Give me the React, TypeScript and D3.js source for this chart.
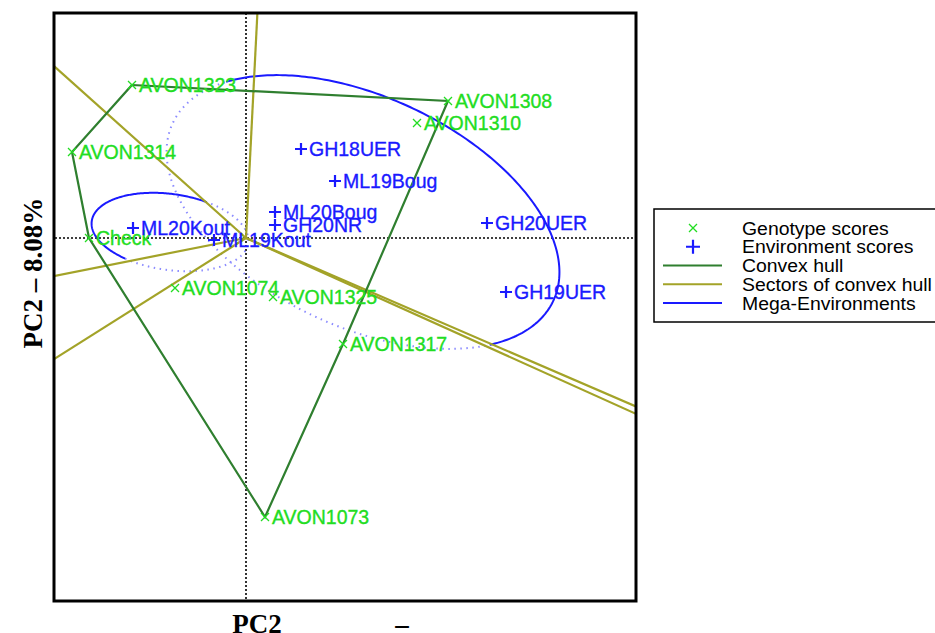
import React, { Component } from 'react';
import * as d3 from 'd3';

// genotype scores (PC1, PC2)
const genotypes = ['AVON1323', 'AVON1314', 'Check', 'AVON1308', 'AVON1310', 'AVON1074', 'AVON1325', 'AVON1317', 'AVON1073'];
const genoPC1 = [-1.14, -1.74, -1.57, 2.02, 1.71, -0.71, 0.27, 0.97, 0.19];
const genoPC2 = [1.53, 0.86, 0.00, 1.37, 1.15, -0.50, -0.59, -1.06, -2.79];

// environment scores
const environments = ['GH18UER', 'ML19Boug', 'ML20Boug', 'GH20NR', 'ML20Kout', 'ML19Kout', 'GH20UER', 'GH19UER'];
const envPC1 = [0.55, 0.89, 0.29, 0.29, -1.13, -0.32, 2.41, 2.60];
const envPC2 = [0.89, 0.57, 0.26, 0.13, 0.10, -0.02, 0.15, -0.54];

// polygon vertices (in order)
const hullOrder = ['AVON1323', 'AVON1308', 'AVON1317', 'AVON1073', 'Check', 'AVON1314'];

// mega-environment ellipses
const megaCx = [1.17, -0.76];
const megaCy = [0.26, 0.06];
const megaA = [2.10, 0.79];
const megaB = [1.15, 0.38];
const megaAngle = [-25, -8];
const megaSolidFrom = [-35.5, 66];
const megaSolidTo = [149, 239];

const legendLabels = ['Genotype scores', 'Environment scores', 'Convex hull', 'Sectors of convex hull', 'Mega-Environments'];

const GENO_COL = '#22dd22';
const ENV_COL = '#1a1aff';
const HULL_COL = '#2f7f2f';
const SECTOR_COL = '#a3a328';
const DOT_COL = '#8c8cff';

class GGEBiplot extends Component {
    ref = React.createRef<SVGSVGElement>();

    componentDidMount() {
        this.createChart();
    }

    createChart() {
        const svg = d3.select(this.ref.current);
        svg.selectAll('*').remove();

        const plot = { left: 55, right: 636, top: 13, bottom: 601 };

        const x = d3.scaleLinear().domain([-1.91, 3.90]).range([plot.left, plot.right]);
        const y = d3.scaleLinear().domain([-3.63, 2.25]).range([plot.bottom, plot.top]);

        svg.append('defs').append('clipPath').attr('id', 'plotclip')
            .append('rect')
            .attr('x', plot.left).attr('y', plot.top)
            .attr('width', plot.right - plot.left).attr('height', plot.bottom - plot.top);

        const g = svg.append('g').attr('clip-path', 'url(#plotclip)');

        // origin lines
        g.append('line')
            .attr('x1', plot.left).attr('x2', plot.right)
            .attr('y1', y(0)).attr('y2', y(0))
            .attr('stroke', '#000').attr('stroke-width', 1.6).attr('stroke-dasharray', '2,2');
        g.append('line')
            .attr('x1', x(0)).attr('x2', x(0))
            .attr('y1', plot.top).attr('y2', plot.bottom)
            .attr('stroke', '#000').attr('stroke-width', 1.6).attr('stroke-dasharray', '2,2');

        // ellipses
        megaCx.forEach((cx, i) => {
            const phi = megaAngle[i] * Math.PI / 180;
            const pt = (deg: number): [number, number] => {
                const t = deg * Math.PI / 180;
                const u = megaA[i] * Math.cos(t), v = megaB[i] * Math.sin(t);
                return [x(cx + u * Math.cos(phi) - v * Math.sin(phi)), y(megaCy[i] + u * Math.sin(phi) + v * Math.cos(phi))];
            };
            const line = d3.line().curve(d3.curveLinear);
            const solid = d3.range(megaSolidFrom[i], megaSolidTo[i] + 0.5, 1).map(pt);
            const dotted = d3.range(megaSolidTo[i], megaSolidFrom[i] + 360 + 0.5, 1).map(pt);
            g.append('path').attr('d', line(dotted)).attr('fill', 'none')
                .attr('stroke', DOT_COL).attr('stroke-width', 2).attr('stroke-dasharray', '1.5,4.5');
            g.append('path').attr('d', line(solid)).attr('fill', 'none')
                .attr('stroke', ENV_COL).attr('stroke-width', 2);
        });

        // hull + sectors
        const hullPts = hullOrder.map((name) => {
            const k = genotypes.indexOf(name);
            return [genoPC1[k], genoPC2[k]];
        });

        hullPts.forEach((p, i) => {
            const q = hullPts[(i + 1) % hullPts.length];
            const dx = q[0] - p[0], dy = q[1] - p[1];
            const t = -(p[0] * dx + p[1] * dy) / (dx * dx + dy * dy);
            const fx = p[0] + t * dx, fy = p[1] + t * dy;
            const len = Math.sqrt(fx * fx + fy * fy);
            g.append('line')
                .attr('x1', x(0)).attr('y1', y(0))
                .attr('x2', x(fx / len * 10)).attr('y2', y(fy / len * 10))
                .attr('stroke', SECTOR_COL).attr('stroke-width', 2.2);
        });

        g.append('path')
            .attr('d', d3.line()(hullPts.map((p) => [x(p[0]), y(p[1])])) + 'Z')
            .attr('fill', 'none')
            .attr('stroke', HULL_COL).attr('stroke-width', 2.2);

        // genotype markers
        genotypes.forEach((name, i) => {
            const px = x(genoPC1[i]), py = y(genoPC2[i]);
            g.append('path')
                .attr('d', `M${px - 4},${py - 4}L${px + 4},${py + 4}M${px - 4},${py + 4}L${px + 4},${py - 4}`)
                .attr('stroke', GENO_COL).attr('stroke-width', 1.3);
            g.append('text')
                .attr('x', px + 7).attr('y', py).attr('dy', '0.36em')
                .attr('fill', GENO_COL)
                .attr('stroke', GENO_COL).attr('stroke-width', 0.35)
                .style('font-family', '"Liberation Sans", Arial, sans-serif')
                .style('font-size', '19.5px')
                .text(name);
        });

        // environment markers
        environments.forEach((name, i) => {
            const px = x(envPC1[i]), py = y(envPC2[i]);
            g.append('path')
                .attr('d', `M${px - 6},${py}L${px + 6},${py}M${px},${py - 6}L${px},${py + 6}`)
                .attr('stroke', ENV_COL).attr('stroke-width', 2.2);
            g.append('text')
                .attr('x', px + 8).attr('y', py).attr('dy', '0.36em')
                .attr('fill', ENV_COL)
                .attr('stroke', ENV_COL).attr('stroke-width', 0.35)
                .style('font-family', '"Liberation Sans", Arial, sans-serif')
                .style('font-size', '19.5px')
                .text(name);
        });

        // frame
        svg.append('rect')
            .attr('x', plot.left - 1).attr('y', plot.top)
            .attr('width', plot.right - plot.left + 1).attr('height', plot.bottom - plot.top)
            .attr('fill', 'none').attr('stroke', '#000').attr('stroke-width', 3);

        // axis titles
        svg.append('text')
            .attr('transform', `translate(42, 273) rotate(-90)`)
            .attr('text-anchor', 'middle')
            .style('font-family', '"Liberation Serif", "Times New Roman", serif')
            .style('font-weight', 'bold').style('font-size', '27px')
            .text('PC2 \u2013 8.08%');
        svg.append('text')
            .attr('x', 257).attr('y', 633).attr('text-anchor', 'middle')
            .style('font-family', '"Liberation Serif", "Times New Roman", serif')
            .style('font-weight', 'bold').style('font-size', '27px')
            .text('PC2');
        svg.append('text')
            .attr('x', 402).attr('y', 633).attr('text-anchor', 'middle')
            .style('font-family', '"Liberation Serif", "Times New Roman", serif')
            .style('font-weight', 'bold').style('font-size', '27px')
            .text('\u2013');

        // legend
        const lg = svg.append('g').attr('transform', 'translate(654, 209)');
        lg.append('rect')
            .attr('x', 0).attr('y', 0).attr('width', 290).attr('height', 113)
            .attr('fill', '#fff').attr('stroke', '#000').attr('stroke-width', 1.5);

        const ly = d3.scalePoint().domain(legendLabels).range([19, 94]);

        legendLabels.forEach((lab, i) => {
            const yy = ly(lab) as number;
            if (i === 0) {
                lg.append('path')
                    .attr('d', `M35,${yy - 4}L43,${yy + 4}M35,${yy + 4}L43,${yy - 4}`)
                    .attr('stroke', GENO_COL).attr('stroke-width', 1.3);
            } else if (i === 1) {
                lg.append('path')
                    .attr('d', `M32,${yy}L46,${yy}M39,${yy - 7}L39,${yy + 7}`)
                    .attr('stroke', ENV_COL).attr('stroke-width', 2.2);
            } else {
                lg.append('line')
                    .attr('x1', 9).attr('x2', 68).attr('y1', yy).attr('y2', yy)
                    .attr('stroke', [HULL_COL, SECTOR_COL, ENV_COL][i - 2]).attr('stroke-width', 2.2);
            }
            lg.append('text')
                .attr('x', 88).attr('y', yy).attr('dy', '0.36em')
                .attr('transform', `translate(88, 0) scale(1.05, 1) translate(-88, 0)`)
                .style('font-family', '"Liberation Sans", Arial, sans-serif')
                .style('font-size', '18.5px')
                .text(lab);
        });
    }

    render() {
        return (
            <svg ref={this.ref} width={935} height={633}
                style={{ position: 'absolute', left: 0, top: 0, background: '#fff' }}></svg>
        );
    }
}

export default function App() {
    return <GGEBiplot />;
}
